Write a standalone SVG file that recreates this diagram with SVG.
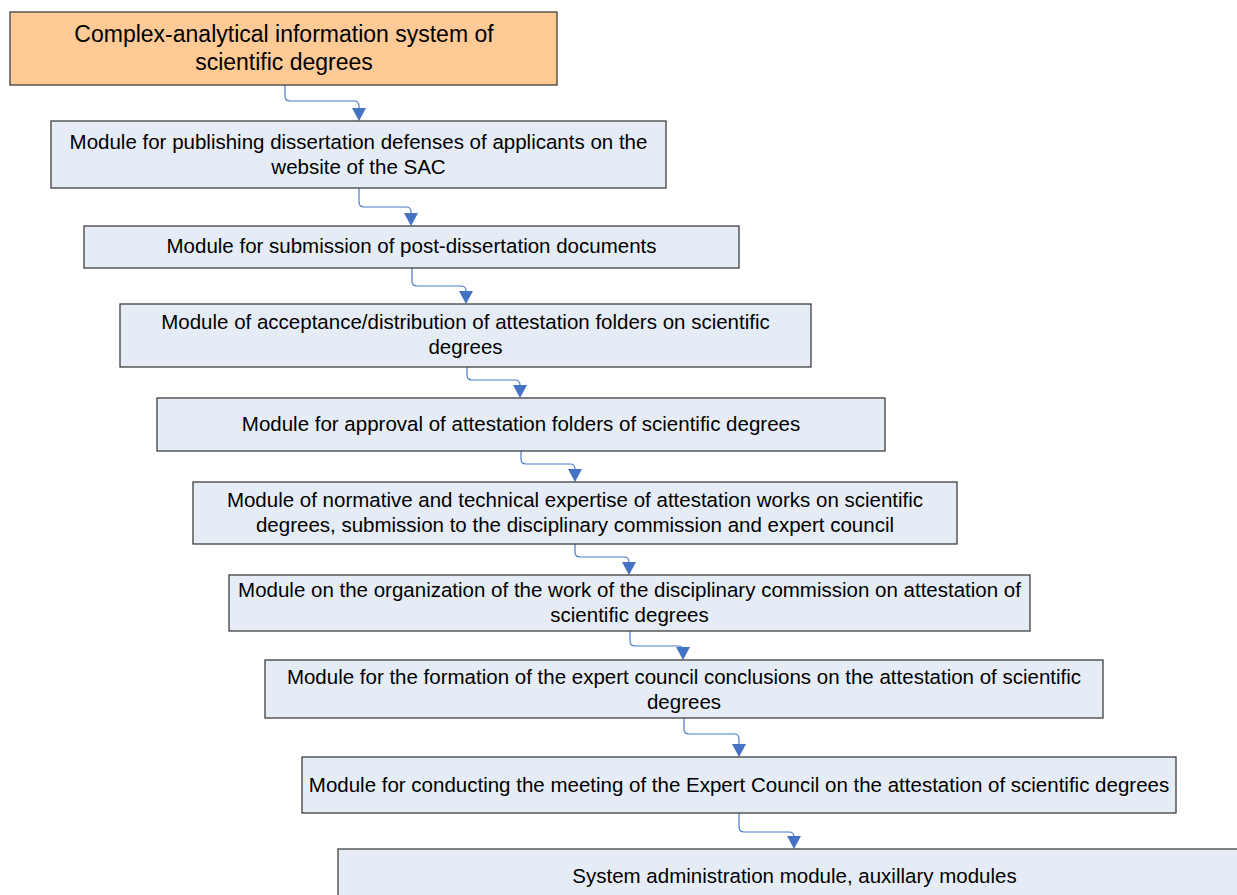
<svg xmlns="http://www.w3.org/2000/svg" width="1237" height="895" viewBox="0 0 1237 895">
<style>
.box{fill:#E6ECF6;stroke:#3F3F3F;stroke-width:1.3}
.root{fill:#FFCA96;stroke:#3F3F3F;stroke-width:1.3}
text{font-family:"Liberation Sans",Arial,sans-serif;font-size:20.5px;fill:#000;text-anchor:middle}
.big{font-size:23px}
.conn path{fill:none;stroke:#4A7BC8;stroke-width:1.2}
.conn polygon{fill:#4472C4}
</style>
<rect width="1237" height="895" fill="#fff"/>
<g class="conn" id="connectors">
<path d="M285 85 V96 Q285 101 290 101 H354 Q359 101 359 106 V110"/><polygon points="352,108 366,108 359,121"/>
<path d="M359 188 V202 Q359 207 364 207 H406 Q411 207 411 212 V215"/><polygon points="404,213 418,213 411,226"/>
<path d="M412 268 V281 Q412 286 417 286 H461 Q466 286 466 291 V293"/><polygon points="459,291 473,291 466,304"/>
<path d="M467 367 V375 Q467 380 472 380 H515 Q520 380 520 385 V387"/><polygon points="513,385 527,385 520,398"/>
<path d="M521 451 V459 Q521 464 526 464 H570 Q575 464 575 469 V471"/><polygon points="568,469 582,469 575,482"/>
<path d="M575 544 V552 Q575 557 580 557 H624 Q629 557 629 562 V564"/><polygon points="622,562 636,562 629,575"/>
<path d="M630 631 V641 Q630 646 635 646 H678 Q683 646 683 651 V649"/><polygon points="676,647 690,647 683,660"/>
<path d="M684 718 V729 Q684 734 689 734 H734 Q739 734 739 739 V746"/><polygon points="732,744 746,744 739,757"/>
<path d="M739 813 V827 Q739 832 744 832 H789 Q794 832 794 837 V838"/><polygon points="787,836 801,836 794,849"/>
</g>
<g id="n0"><rect class="root" x="10" y="12" width="547" height="73"/><text class="big" x="284" y="42">Complex-analytical information system of</text><text class="big" x="284" y="70">scientific degrees</text></g>
<g id="n1"><rect class="box" x="51" y="121" width="615" height="67"/><text x="358.5" y="149">Module for publishing dissertation defenses of applicants on the</text><text x="358.5" y="174">website of the SAC</text></g>
<g id="n2"><rect class="box" x="84" y="226" width="655" height="42"/><text x="411.5" y="253">Module for submission of post-dissertation documents</text></g>
<g id="n3"><rect class="box" x="120" y="304" width="691" height="63"/><text x="465.5" y="329">Module of acceptance/distribution of attestation folders on scientific</text><text x="465.5" y="354">degrees</text></g>
<g id="n4"><rect class="box" x="157" y="398" width="728" height="53"/><text x="521" y="431">Module for approval of attestation folders of scientific degrees</text></g>
<g id="n5"><rect class="box" x="193" y="482" width="764" height="62"/><text x="575" y="507">Module of normative and technical expertise of attestation works on scientific</text><text x="575" y="532">degrees, submission to the disciplinary commission and expert council</text></g>
<g id="n6"><rect class="box" x="229" y="575" width="801" height="56"/><text x="629.5" y="597">Module on the organization of the work of the disciplinary commission on attestation of</text><text x="629.5" y="622">scientific degrees</text></g>
<g id="n7"><rect class="box" x="265" y="660" width="838" height="58"/><text x="684" y="684">Module for the formation of the expert council conclusions on the attestation of scientific</text><text x="684" y="709">degrees</text></g>
<g id="n8"><rect class="box" x="302" y="757" width="874" height="56"/><text x="739" y="792">Module for conducting the meeting of the Expert Council on the attestation of scientific degrees</text></g>
<g id="n9"><rect class="box" x="338" y="849" width="912" height="60"/><text x="794.5" y="883">System administration module, auxillary modules</text></g>
</svg>
